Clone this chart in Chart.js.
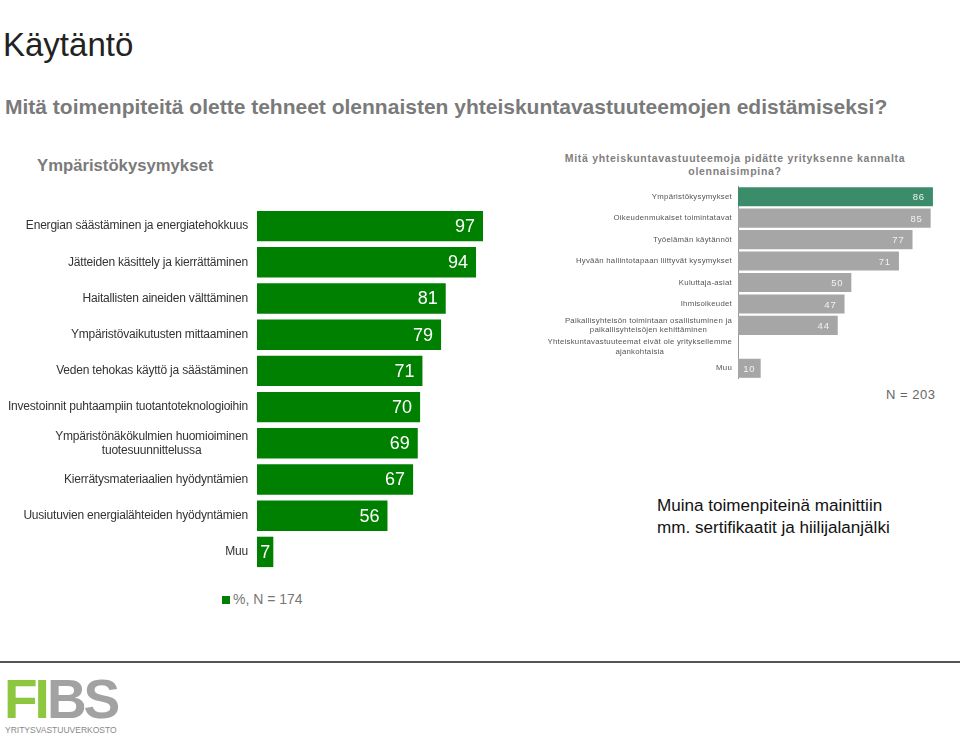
<!DOCTYPE html>
<html>
<head>
    <title>Käytäntö</title>
    <script src="https://cdn.jsdelivr.net/npm/chart.js"></script>
    <style>
        body { margin: 0; font-family: "Liberation Sans", Arial, sans-serif; background: #fff; }
        #page { position: relative; width: 960px; height: 737px; overflow: hidden; }
        .abs { position: absolute; white-space: nowrap; }
        #title { left: 3px; top: 26px; font-size: 33px; color: #222; }
        #question { left: 5px; top: 95px; font-size: 21px; font-weight: bold; color: #7a7a7a; }
        #leftHead { left: 37px; top: 156px; font-size: 16.7px; font-weight: bold; color: #7a7a7a; }
        #rightHead { left: 530px; width: 410px; top: 152px; font-size: 10.5px; font-weight: bold; color: #7f7f7f;
                     letter-spacing: 0.7px; text-align: center; line-height: 13px; white-space: normal; }
        #leftWrap { left: 0; top: 208px; width: 495px; height: 362px; }
        #rightWrap { left: 540px; top: 186px; width: 402px; height: 193px; }
        #legend { left: 222px; top: 591px; font-size: 14px; color: #777; }
        #legend span { display: inline-block; width: 8px; height: 8px; background: #008000; margin-right: 3px; }
        #nRight { left: 886px; top: 387px; font-size: 13px; color: #666; letter-spacing: 0.5px; }
        #note { left: 657px; top: 495px; font-size: 17.1px; color: #111; line-height: 22px; }
        #rule { left: 0; top: 661px; width: 960px; height: 2px; background: #555; }
        #logo { left: 4px; top: 669px; font-size: 55px; font-weight: bold; letter-spacing: -3px; line-height: 60px; }
        #logoSub { left: 5px; top: 725px; font-size: 8.5px; color: #888; letter-spacing: 0px; }
    </style>
</head>
<body>
<div id="page">
    <div class="abs" id="title">Käytäntö</div>
    <div class="abs" id="question">Mitä toimenpiteitä olette tehneet olennaisten yhteiskuntavastuuteemojen edistämiseksi?</div>
    <div class="abs" id="leftHead">Ympäristökysymykset</div>
    <div class="abs" id="rightHead">Mitä yhteiskuntavastuuteemoja pidätte yrityksenne kannalta olennaisimpina?</div>

    <div class="abs" id="leftWrap"><canvas id="leftChart"></canvas></div>
    <div class="abs" id="rightWrap"><canvas id="rightChart"></canvas></div>

    <div class="abs" id="legend"><span></span>%, N = 174</div>
    <div class="abs" id="nRight">N = 203</div>
    <div class="abs" id="note">Muina toimenpiteinä mainittiin<br>mm. sertifikaatit ja hiilijalanjälki</div>
    <div class="abs" id="rule"></div>
    <div class="abs" id="logo"><span style="color:#8dc63f">FI</span><span style="color:#a2a2a2">BS</span></div>
    <div class="abs" id="logoSub">YRITYSVASTUUVERKOSTO</div>
</div>

<script>
    // left chart: environmental actions taken (%, N = 174)
    const envLabels = [
        'Energian säästäminen ja energiatehokkuus',
        'Jätteiden käsittely ja kierrättäminen',
        'Haitallisten aineiden välttäminen',
        'Ympäristövaikutusten mittaaminen',
        'Veden tehokas käyttö ja säästäminen',
        'Investoinnit puhtaampiin tuotantoteknologioihin',
        ['Ympäristönäkökulmien huomioiminen', 'tuotesuunnittelussa'],
        'Kierrätysmateriaalien hyödyntämien',
        'Uusiutuvien energialähteiden hyödyntämien',
        'Muu'
    ];
    const envValues = [97, 94, 81, 79, 71, 70, 69, 67, 56, 7];

    // right chart: most relevant themes (%, N = 203)
    const themeLabels = [
        'Ympäristökysymykset',
        'Oikeudenmukaiset toimintatavat',
        'Työelämän käytännöt',
        'Hyvään hallintotapaan liittyvät kysymykset',
        'Kuluttaja-asiat',
        'Ihmisoikeudet',
        ['Paikallisyhteisön toimintaan osallistuminen ja', 'paikallisyhteisöjen kehittäminen'],
        ['Yhteiskuntavastuuteemat eivät ole yrityksellemme', 'ajankohtaisia'],
        'Muu'
    ];
    const themeValues = [86, 85, 77, 71, 50, 47, 44, 0, 10];
    const themeColors = ['#3b8c6b', '#a6a6a6', '#a6a6a6', '#a6a6a6', '#a6a6a6', '#a6a6a6', '#a6a6a6', '#a6a6a6', '#a6a6a6'];

    // category labels, lines centred inside a right-aligned block
    const sideLabels = {
        id: 'sideLabels',
        afterDraw(chart, args, opts) {
            const ctx = chart.ctx, y = chart.scales.y;
            ctx.save();
            ctx.font = opts.font;
            ctx.fillStyle = opts.color;
            ctx.letterSpacing = opts.spacing;
            ctx.textBaseline = 'middle';
            ctx.textAlign = 'center';
            chart.data.labels.forEach((lab, i) => {
                const lines = Array.isArray(lab) ? lab : [lab];
                const maxW = Math.max(...lines.map(l => ctx.measureText(l).width));
                const cx = y.right - opts.gap - maxW / 2;
                const cy = y.getPixelForValue(i);
                lines.forEach((l, j) => {
                    ctx.fillText(l, cx, cy + (j - (lines.length - 1) / 2) * opts.lineHeight);
                });
            });
            ctx.restore();
        }
    };

    // values written inside the end of each bar
    const barValues = {
        id: 'barValues',
        afterDatasetsDraw(chart, args, opts) {
            const ctx = chart.ctx;
            const data = chart.data.datasets[0].data;
            ctx.save();
            ctx.font = opts.font;
            ctx.fillStyle = opts.color;
            ctx.letterSpacing = opts.spacing;
            ctx.textBaseline = 'middle';
            ctx.textAlign = 'right';
            chart.getDatasetMeta(0).data.forEach((bar, i) => {
                const v = data[i];
                if (!v) return;
                const txt = String(v);
                const w = bar.x - bar.base;
                const inset = Math.min(opts.inset, (w - ctx.measureText(txt).width) / 2);
                ctx.fillText(txt, bar.x - inset, bar.y + opts.dy);
            });
            ctx.restore();
        }
    };

    new Chart(document.getElementById('leftChart'), {
        type: 'bar',
        data: {
            labels: envLabels,
            datasets: [{ data: envValues, backgroundColor: '#008000', barPercentage: 0.84, categoryPercentage: 1 }]
        },
        options: {
            indexAxis: 'y',
            responsive: true,
            maintainAspectRatio: false,
            animation: false,
            layout: { padding: { right: 5 } },
            plugins: {
                legend: { display: false },
                tooltip: { enabled: false },
                sideLabels: { font: '12px "Liberation Sans", Arial', color: '#333', spacing: '-0.2px', gap: 9, lineHeight: 14 },
                barValues: { font: '18px "Liberation Sans", Arial', color: '#fff', spacing: '0px', inset: 8, dy: 1 }
            },
            scales: {
                x: { display: false, min: 0, max: 100 },
                y: {
                    grid: { display: false },
                    border: { display: false },
                    ticks: { display: false },
                    afterFit: s => { s.width = 257; }
                }
            }
        },
        plugins: [sideLabels, barValues]
    });

    new Chart(document.getElementById('rightChart'), {
        type: 'bar',
        data: {
            labels: themeLabels,
            datasets: [{ data: themeValues, backgroundColor: themeColors, barPercentage: 0.89, categoryPercentage: 1 }]
        },
        options: {
            indexAxis: 'y',
            responsive: true,
            maintainAspectRatio: false,
            animation: false,
            plugins: {
                legend: { display: false },
                tooltip: { enabled: false },
                sideLabels: { font: '7.8px "Liberation Sans", Arial', color: '#555', spacing: '0.25px', gap: 6, lineHeight: 9.5 },
                barValues: { font: '9.5px "Liberation Sans", Arial', color: '#f2f2f2', spacing: '0.8px', inset: 8, dy: 1 }
            },
            scales: {
                x: { display: false, min: 0, max: 90 },
                y: {
                    grid: { display: false },
                    border: { display: true, color: '#999', width: 1 },
                    ticks: { display: false },
                    afterFit: s => { s.width = 198; }
                }
            }
        },
        plugins: [sideLabels, barValues]
    });
</script>
</body>
</html>
